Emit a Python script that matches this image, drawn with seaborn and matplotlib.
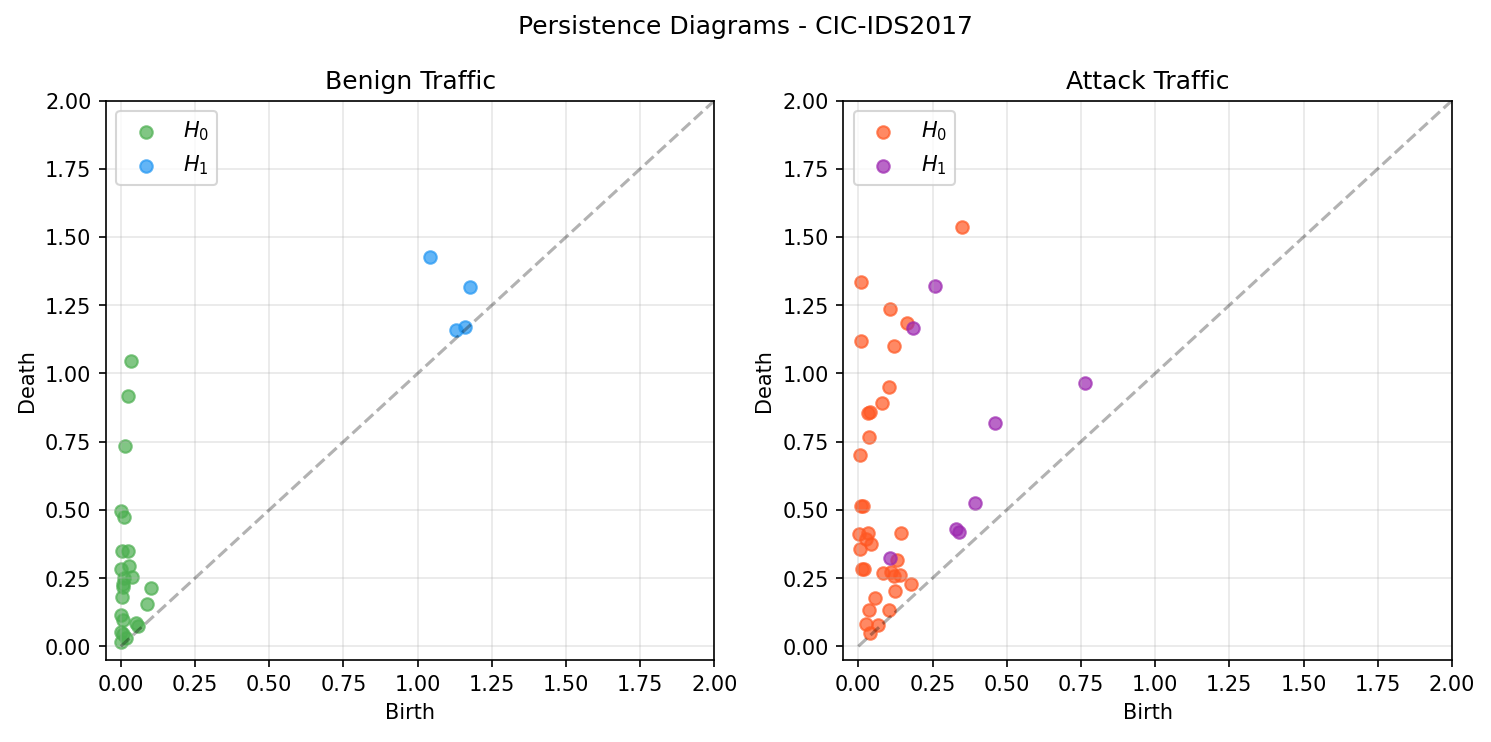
import numpy as np
import pandas as pd
import matplotlib
matplotlib.use("Agg")
import matplotlib.pyplot as plt
import seaborn as sns

# benign traffic diagrams
benign_h0_birth = [0.035, 0.025, 0.013, 0.0, 0.01, 0.005, 0.025, 0.0, 0.026, 0.039, 0.01, 0.006,
                   0.008, 0.1, 0.005, 0.089, 0.0, 0.008, 0.05, 0.058, 0.0, 0.008, 0.019, 0.0]
benign_h0_death = [1.045, 0.917, 0.735, 0.495, 0.474, 0.351, 0.351, 0.285, 0.295, 0.255, 0.249, 0.228,
                   0.218, 0.212, 0.18, 0.154, 0.115, 0.096, 0.084, 0.076, 0.054, 0.044, 0.029, 0.017]
benign_h1_birth = [1.043, 1.177, 1.158, 1.128]
benign_h1_death = [1.426, 1.315, 1.171, 1.159]

# attack traffic diagrams
attack_h0_birth = [0.351, 0.008, 0.108, 0.163, 0.008, 0.119, 0.102, 0.081, 0.033, 0.038, 0.036, 0.006,
                   0.01, 0.015, 0.004, 0.034, 0.027, 0.043, 0.145, 0.007, 0.132, 0.013, 0.02, 0.083,
                   0.11, 0.121, 0.141, 0.176, 0.122, 0.055, 0.036, 0.103, 0.027, 0.066, 0.038]
attack_h0_death = [1.535, 1.335, 1.236, 1.185, 1.118, 1.1, 0.95, 0.891, 0.856, 0.86, 0.767, 0.702,
                   0.513, 0.513, 0.412, 0.417, 0.395, 0.374, 0.416, 0.358, 0.318, 0.283, 0.283, 0.27,
                   0.273, 0.257, 0.263, 0.23, 0.204, 0.178, 0.133, 0.134, 0.08, 0.077, 0.048]
attack_h1_birth = [0.26, 0.185, 0.764, 0.461, 0.394, 0.329, 0.34, 0.108]
attack_h1_death = [1.322, 1.166, 0.966, 0.819, 0.527, 0.431, 0.419, 0.322]

panels = [
    ("Benign Traffic", benign_h0_birth, benign_h0_death, benign_h1_birth, benign_h1_death,
     "#4CAF50", "#2196F3"),
    ("Attack Traffic", attack_h0_birth, attack_h0_death, attack_h1_birth, attack_h1_death,
     "#FF5722", "#9C27B0"),
]

fig, axes = plt.subplots(1, 2, figsize=(9.94, 4.95), dpi=150)

for ax, (title, b0, d0, b1, d1, c0, c1) in zip(axes, panels):
    sns.scatterplot(x=b0, y=d0, ax=ax, color=c0, alpha=0.7, s=36,
                    edgecolor=c0, linewidth=1, label="$H_0$")
    sns.scatterplot(x=b1, y=d1, ax=ax, color=c1, alpha=0.7, s=36,
                    edgecolor=c1, linewidth=1, label="$H_1$")
    ax.plot([0, 2], [0, 2], "k--", alpha=0.3, linewidth=1.5)
    ax.set_xlim(-0.05, 2)
    ax.set_ylim(-0.05, 2)
    ax.set_xlabel("Birth")
    ax.set_ylabel("Death")
    ax.set_title(title)
    ax.grid(True, alpha=0.3)
    ax.legend(loc="upper left")

plt.suptitle("Persistence Diagrams - CIC-IDS2017", fontsize=12, y=0.98)
plt.subplots_adjust(left=0.0711, right=0.9738, top=0.8639, bottom=0.1105, wspace=0.212)
plt.savefig("out.png", dpi=150)
plt.close()
